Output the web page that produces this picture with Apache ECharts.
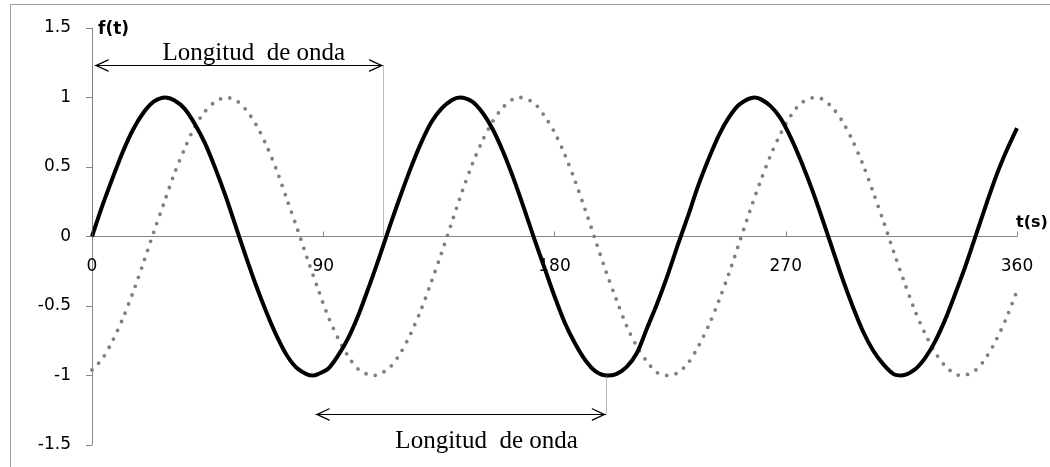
<!DOCTYPE html>
<html>
<head>
<meta charset="utf-8">
<script src="https://cdn.jsdelivr.net/npm/echarts@6/dist/echarts.min.js"></script>
<style>
    html, body { margin: 0; padding: 0; background: #fff; }
    #g_onda { width: 1050px; height: 467px; }
</style>
</head>
<body>
<div id="g_onda"></div>
<script>
// datos (t cada 4 s, mas los maximos y minimos)
// curva continua (negra)
var tContinua = [0, 4, 8, 12, 16, 20, 24, 28.6, 32, 36, 40, 44, 48, 52, 56, 60, 64, 68, 72, 76,
    80, 85.9, 88, 92, 96, 100, 104, 108, 112, 116, 120, 124, 128, 132, 136, 140, 143.2, 148, 152, 156,
    160, 164, 168, 172, 176, 180, 184, 188, 192, 196, 200.5, 204, 208, 212, 216, 220, 224, 228, 232, 236,
    240, 244, 248, 252, 257.8, 260, 264, 268, 272, 276, 280, 284, 288, 292, 296, 300, 304, 308, 312, 315.1,
    320, 324, 328, 332, 336, 340, 344, 348, 352, 356, 360];
var fContinua = [0, 0.22, 0.42, 0.61, 0.77, 0.89, 0.97, 1.00, 0.98, 0.92,
    0.81, 0.67, 0.49, 0.29, 0.07, -0.15, -0.36, -0.55, -0.72, -0.86,
    -0.95, -1.00, -0.99, -0.95, -0.85, -0.72, -0.55, -0.35, -0.14, 0.08,
    0.29, 0.49, 0.67, 0.82, 0.92, 0.98, 1.00, 0.97, 0.89, 0.77,
    0.61, 0.42, 0.21, -0.01, -0.22, -0.43, -0.62, -0.77, -0.89, -0.97,
    -1.00, -0.99, -0.94, -0.84, -0.66, -0.48, -0.28, -0.06, 0.15, 0.37,
    0.56, 0.73, 0.86, 0.95, 1.00, 0.99, 0.94, 0.85, 0.71, 0.54,
    0.35, 0.14, -0.08, -0.30, -0.50, -0.68, -0.82, -0.92, -0.99, -1.00,
    -0.96, -0.88, -0.76, -0.60, -0.41, -0.21, 0.01, 0.23, 0.44, 0.62,
    0.78];
// curva punteada (gris)
var tPunteada = [0, 4, 8, 12, 16, 20, 24, 28, 32, 36, 40, 44, 48, 52.2, 56, 60, 64, 68, 72, 76,
    80, 84, 88, 92, 96, 100, 104, 109.5, 112, 116, 120, 124, 128, 132, 136, 140, 144, 148, 152, 156,
    160, 164, 166.8, 172, 176, 180, 184, 188, 192, 196, 200, 204, 208, 212, 216, 220, 224.1, 228, 232, 236,
    240, 244, 248, 252, 256, 260, 264, 268, 272, 276, 281.4, 284, 288, 292, 296, 300, 304, 308, 312, 316,
    320, 324, 328, 332, 336, 338.7, 344, 348, 352, 356, 360];
var fPunteada = [-0.96, -0.88, -0.75, -0.59, -0.40, -0.19, 0.03, 0.24, 0.45, 0.63,
    0.79, 0.90, 0.97, 1.00, 0.98, 0.91, 0.80, 0.65, 0.47, 0.26,
    0.05, -0.17, -0.38, -0.58, -0.74, -0.87, -0.96, -1.00, -0.99, -0.94,
    -0.84, -0.70, -0.53, -0.33, -0.12, 0.10, 0.32, 0.52, 0.69, 0.83,
    0.93, 0.99, 1.00, 0.96, 0.87, 0.75, 0.59, 0.40, 0.19, -0.03,
    -0.25, -0.45, -0.64, -0.79, -0.90, -0.98, -1.00, -0.98, -0.91, -0.79,
    -0.64, -0.46, -0.26, -0.04, 0.18, 0.39, 0.58, 0.74, 0.87, 0.96,
    1.00, 0.99, 0.93, 0.83, 0.69, 0.52, 0.32, 0.11, -0.11, -0.32,
    -0.52, -0.69, -0.83, -0.93, -0.99, -1.00, -0.96, -0.87, -0.74, -0.58,
    -0.39];
// ejes
var ejeX = {min: 0, max: 360, interval: 90};
var ejeY = {min: -1.5, max: 1.5, interval: 0.5};
// anotaciones "Longitud de onda"
var textoOnda = 'Longitud  de onda';
var flechaArriba = [[1, 1.23], [113.3, 1.23]];
var flechaAbajo = [[87, -1.28], [200, -1.28]];
var guiasArriba = [[[0, 1.23], [0, 0]], [[113.3, 1.23], [113.3, 0]]];
var guiaAbajo = [[200, -1], [200, -1.28]];
var posTextos = [[63, 1.32], [153.6, -1.475]];

(function () {
    var gris = '#868686';
    var fuente = 'DejaVu Sans';
    // punta abierta, con el vertice en el centro del simbolo
    var punta = 'path://M5,-10M5,0L10,10L8.9,10L5,2.2L1.1,10L0,10Z';

    var serieContinua = tContinua.map(function (t, i) { return [t, fContinua[i]]; });
    var seriePunteada = tPunteada.map(function (t, i) { return [t, fPunteada[i]]; });

    function flecha(par) {
        return [
            {coord: par[0], symbol: punta, symbolSize: [13, 28], lineStyle: {color: '#000', width: 1.2, type: 'solid'}},
            {coord: par[1], symbol: punta, symbolSize: [13, 28]}
        ];
    }
    function guia(par) {
        return [
            {coord: par[0], symbol: 'none', lineStyle: {color: '#777', width: 1, type: [1, 1]}},
            {coord: par[1], symbol: 'none'}
        ];
    }

    var e_chart = echarts.init(document.getElementById('g_onda'));
    var options = {
        animation: false,
        graphic: [{
            type: 'rect',
            shape: {x: 10.5, y: 4.5, width: 1100, height: 500},
            style: {fill: 'none', stroke: '#a0a0a0', lineWidth: 1},
            silent: true
        }],
        grid: {left: 92, right: 33, top: 28, bottom: 22, outerBoundsMode: 'none'},
        xAxis: {
            type: 'value',
            position: 'bottom',
            // eje en f(t)=0: mitad de la altura del grid
            offset: -208.5,
            min: ejeX.min, max: ejeX.max, interval: ejeX.interval,
            name: 't(s)',
            nameLocation: 'end',
            nameGap: -1,
            nameTextStyle: {fontFamily: fuente, fontWeight: 'bold', fontSize: 16, color: '#000',
                align: 'left', verticalAlign: 'bottom', padding: [0, 0, 6, 0]},
            axisLine: {onZero: false, lineStyle: {color: gris, width: 1}},
            axisTick: {inside: true, length: 5, lineStyle: {color: gris}},
            axisLabel: {show: true, hideOverlap: false, margin: 22, fontFamily: fuente, fontSize: 17, color: '#000'},
            splitLine: {show: false}
        },
        yAxis: {
            type: 'value',
            min: ejeY.min, max: ejeY.max, interval: ejeY.interval,
            name: 'f(t)',
            nameLocation: 'end',
            nameGap: -2,
            nameTextStyle: {fontFamily: fuente, fontWeight: 'bold', fontSize: 17, color: '#000',
                align: 'left', verticalAlign: 'middle', padding: [0, 0, 0, 6]},
            axisLine: {show: true, lineStyle: {color: gris, width: 1}},
            axisTick: {show: true, length: 6, lineStyle: {color: gris}},
            axisLabel: {margin: 21, fontFamily: fuente, fontSize: 17, color: '#000'},
            splitLine: {show: false}
        },
        series: [{
            name: 'punteada',
            type: 'line',
            data: seriePunteada,
            smooth: 0.3,
            showSymbol: false,
            lineStyle: {color: '#7f7f7f', width: 3.8, type: [0, 9.5], cap: 'round'},
            z: 2
        }, {
            name: 'continua',
            type: 'line',
            data: serieContinua,
            smooth: 0.3,
            showSymbol: false,
            lineStyle: {color: '#000', width: 4},
            z: 3,
            markLine: {
                silent: true,
                animation: false,
                label: {show: false},
                data: [flecha(flechaArriba), flecha(flechaAbajo),
                    guia(guiasArriba[0]), guia(guiasArriba[1]), guia(guiaAbajo)]
            },
            markPoint: {
                silent: true,
                symbol: 'circle',
                symbolSize: 0,
                label: {show: true, position: 'inside', formatter: '{b}',
                    fontFamily: 'Liberation Serif', fontSize: 25, color: '#000'},
                data: posTextos.map(function (p) { return {name: textoOnda, coord: p}; })
            }
        }]
    };
    e_chart.setOption(options);
})();
</script>
</body>
</html>
